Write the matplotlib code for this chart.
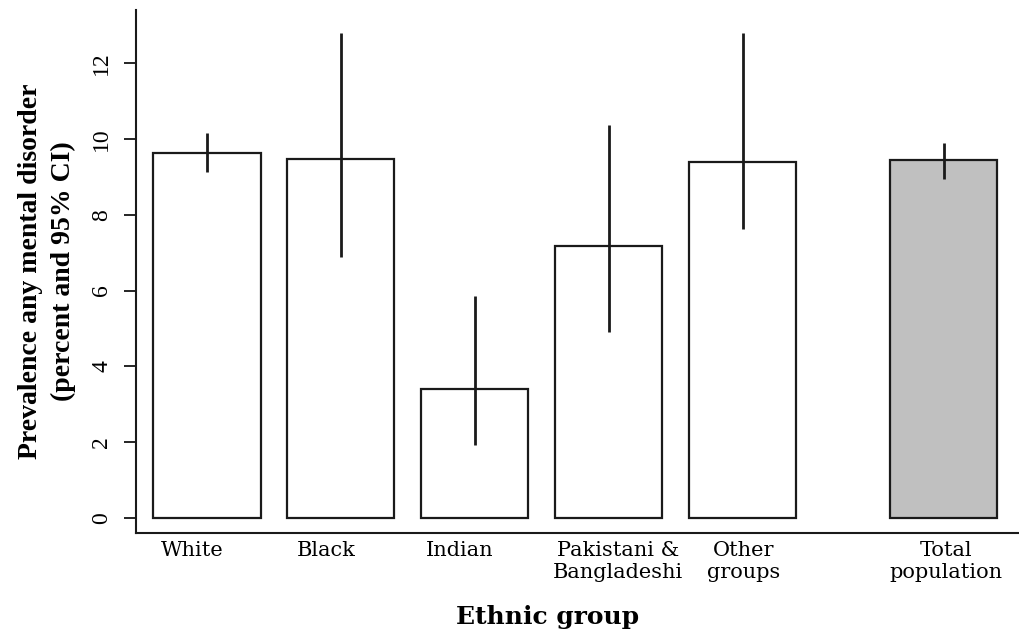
import matplotlib
matplotlib.use("Agg")
import matplotlib.pyplot as plt

groups = ["White", "Black", "Indian", "Pakistani &\nBangladeshi", "Other\ngroups", "Total\npopulation"]
prevalence = [9.63, 9.47, 3.40, 7.17, 9.39, 9.44]
ci_low = [9.12, 6.88, 1.93, 4.90, 7.62, 8.94]
ci_high = [10.15, 12.79, 5.85, 10.36, 12.79, 9.89]
yticks = [0, 2, 4, 6, 8, 10, 12]

plt.rcParams['font.family'] = ['Liberation Serif', 'DejaVu Serif']

xpos = [0, 1, 2, 3, 4, 5.5]
label_pos = [-0.11, 0.89, 1.89, 3.07, 4.01, 5.52]
fills = ['white'] * 5 + ['#c0c0c0']

fig = plt.figure(figsize=(10.2, 6.33), dpi=100)
ax = fig.add_axes([0.1333, 0.158, 0.8667, 0.826])

ax.bar(xpos, prevalence, width=0.8, color=fills, edgecolor='#1a1a1a', linewidth=1.6, zorder=2)
ax.vlines(xpos, ci_low, ci_high, color='#1a1a1a', linewidth=2, zorder=3)

ax.set_xlim(-0.53, 6.07)
ax.set_ylim(-0.4, 13.4)
ax.set_yticks(yticks)
ax.set_yticklabels([str(t) for t in yticks], rotation=90, va='center', fontsize=17)
ax.tick_params(axis='y', length=9, width=1.2, pad=8)
ax.set_xticks([])

for s in ['top', 'right']:
    ax.spines[s].set_visible(False)
for s in ['left', 'bottom']:
    ax.spines[s].set_linewidth(1.5)
    ax.spines[s].set_color('#1a1a1a')

for lp, g in zip(label_pos, groups):
    ax.text(lp, -0.6, g, ha='center', va='top', fontsize=15, linespacing=1.25,
            family='DejaVu Serif')

ax.set_ylabel("Prevalence any mental disorder\n(percent and 95% CI)", fontsize=20,
              fontweight='bold', labelpad=11, linespacing=1.4)
fig.text(0.537, 0.026, "Ethnic group", ha='center', va='center', fontsize=18,
         fontweight='bold', family='DejaVu Serif')

fig.savefig("out.png", dpi=100)
